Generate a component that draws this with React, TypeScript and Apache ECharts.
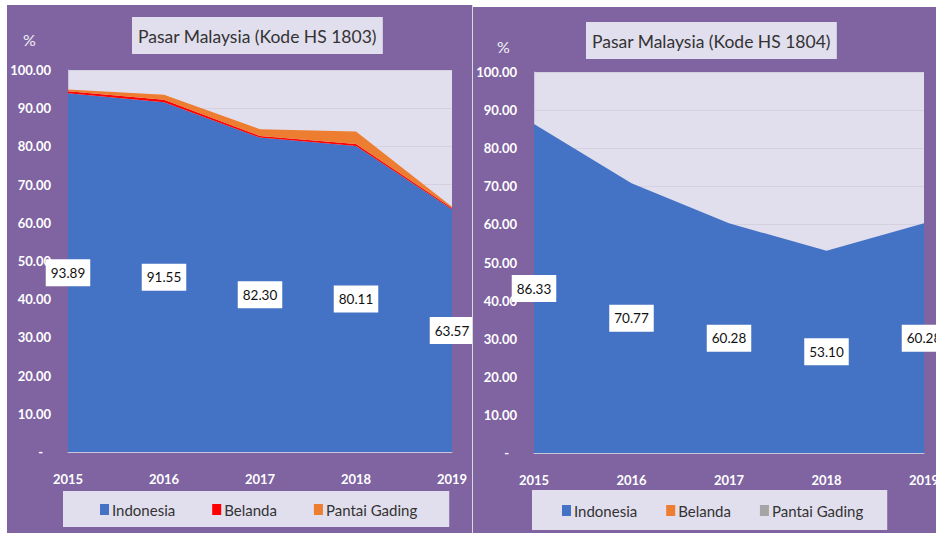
import React, { useEffect, useRef } from "react";
import * as echarts from "echarts";

const years = ["2015", "2016", "2017", "2018", "2019"];
const seriesNames = ["Indonesia", "Belanda", "Pantai Gading"];

const hs1803Indonesia = [93.89, 91.55, 82.3, 80.11, 63.57];
const hs1803Belanda = [0.55, 0.65, 0.45, 0.5, 0.3];
const hs1803PantaiGading = [0.45, 1.3, 1.75, 3.3, 0.35];

const hs1804Indonesia = [86.33, 70.77, 60.28, 53.1, 60.28];
const hs1804Belanda = [0, 0, 0, 0, 0];
const hs1804PantaiGading = [0, 0, 0, 0, 0];

const FONT = "Lato, 'Open Sans', sans-serif";
const PURPLE = "#8064A2";
const LAVENDER = "#E1DEED";

type Cfg = {
  title: string;
  titleLeft: number;
  titleTop: number;
  pctX: number;
  pctY: number;
  grid: { left: number; top: number; width: number; height: number };
  legend: { left: number; top: number; padding: number[]; itemGap: number };
  colors: string[];
  data: number[][];
};

function buildOption(c: Cfg) {
  const indo = c.data[0];
  return {
    animation: false,
    backgroundColor: PURPLE,
    textStyle: { fontFamily: FONT },
    title: {
      text: c.title,
      left: c.titleLeft,
      top: c.titleTop,
      padding: [10, 6, 9, 6],
      backgroundColor: LAVENDER,
      textStyle: { fontSize: 17.5, fontWeight: "normal", color: "#333333", fontFamily: FONT },
    },
    graphic: [
      {
        type: "text",
        left: c.pctX,
        top: c.pctY,
        style: { text: "%", fill: "#F2F2F2", font: `16px ${FONT}` },
      },
    ],
    legend: {
      data: seriesNames,
      left: c.legend.left,
      top: c.legend.top,
      width: 420,
      padding: c.legend.padding,
      itemGap: c.legend.itemGap,
      itemWidth: 9,
      itemHeight: 11,
      icon: "rect",
      backgroundColor: LAVENDER,
      selectedMode: false,
      textStyle: { fontSize: 15, color: "#333333", fontFamily: FONT, padding: [0, 0, 0, -2] },
    },
    grid: {
      left: c.grid.left,
      top: c.grid.top,
      width: c.grid.width,
      height: c.grid.height,
      show: true,
      backgroundColor: LAVENDER,
      borderWidth: 0,
      containLabel: false,
      outerBoundsMode: "none",
    },
    xAxis: {
      type: "category",
      data: years,
      boundaryGap: false,
      axisLine: { show: true, lineStyle: { color: "#C9C5DA", width: 1 } },
      axisTick: { show: false },
      axisLabel: { color: "#FFFFFF", fontWeight: "bold", fontSize: 13, margin: 20, fontFamily: FONT },
    },
    yAxis: {
      type: "value",
      min: 0,
      max: 100,
      interval: 10,
      axisLine: { show: true, lineStyle: { color: "#C9C5DA", width: 1 } },
      axisTick: { show: false },
      splitLine: { show: true, lineStyle: { color: "#D5D2DF", width: 1 } },
      axisLabel: {
        color: "#FFFFFF",
        fontWeight: "bold",
        fontSize: 13,
        margin: 17,
        fontFamily: FONT,
        formatter: (v: number) => (v === 0 ? "{z|-}" : v.toFixed(2)),
        rich: { z: { color: "#FFFFFF", fontWeight: "bold", fontSize: 13, padding: [0, 8, 0, 0] } },
      },
    },
    series: [
      ...seriesNames.map((name, i) => ({
        name,
        type: "line",
        stack: "total",
        data: c.data[i],
        symbol: "none",
        lineStyle: { width: 0 },
        itemStyle: { color: c.colors[i] },
        areaStyle: { color: c.colors[i], opacity: 1 },
        emphasis: { disabled: true },
      })),
      {
        name: "labels",
        type: "scatter",
        data: indo.map((v, i) => [i, v / 2, v]),
        symbolSize: 1,
        itemStyle: { color: "rgba(0,0,0,0)", opacity: 1 },
        silent: true,
        z: 10,
        label: {
          show: true,
          position: "inside",
          opacity: 1,
          formatter: (p: any) => Number(p.value[2]).toFixed(2),
          backgroundColor: "#FFFFFF",
          color: "#111111",
          fontSize: 13.5,
          fontFamily: FONT,
          padding: [7, 5, 6, 5],
        },
      },
    ],
  };
}

const leftCfg: Cfg = {
  title: "Pasar Malaysia (Kode HS 1803)",
  titleLeft: 125,
  titleTop: 12,
  pctX: 16,
  pctY: 26,
  grid: { left: 61, top: 65, width: 384, height: 382 },
  legend: { left: 56, top: 486, padding: [11, 32, 10, 37], itemGap: 37 },
  colors: ["#4472C4", "#FF0000", "#ED7D31"],
  data: [hs1803Indonesia, hs1803Belanda, hs1803PantaiGading],
};

const rightCfg: Cfg = {
  title: "Pasar Malaysia (Kode HS 1804)",
  titleLeft: 113,
  titleTop: 15,
  pctX: 24,
  pctY: 31,
  grid: { left: 61, top: 65, width: 390, height: 381 },
  legend: { left: 59, top: 483, padding: [13, 24, 12, 30], itemGap: 29 },
  colors: ["#4472C4", "#ED7D31", "#A5A5A5"],
  data: [hs1804Indonesia, hs1804Belanda, hs1804PantaiGading],
};

function Panel({ cfg, style }: { cfg: Cfg; style: React.CSSProperties }) {
  const ref = useRef<HTMLDivElement>(null);
  useEffect(() => {
    if (!ref.current) return;
    const chart = echarts.init(ref.current, undefined, { renderer: "svg" });
    chart.setOption(buildOption(cfg) as any);
    return () => chart.dispose();
  }, [cfg]);
  return <div ref={ref} style={{ position: "absolute", ...style }} />;
}

export default function App() {
  useEffect(() => {
    document.body.style.margin = "0";
  }, []);
  return (
    <div
      style={{
        position: "fixed",
        left: 0,
        top: 0,
        width: 936,
        height: 533,
        background: "#FFFFFF",
        overflow: "hidden",
      }}
    >
      <Panel cfg={leftCfg} style={{ left: 7, top: 5, width: 465, height: 528 }} />
      <div style={{ position: "absolute", left: 472, top: 5, width: 1, height: 528, background: "#D9D9D9" }} />
      <Panel cfg={rightCfg} style={{ left: 473, top: 7, width: 463, height: 526 }} />
    </div>
  );
}
